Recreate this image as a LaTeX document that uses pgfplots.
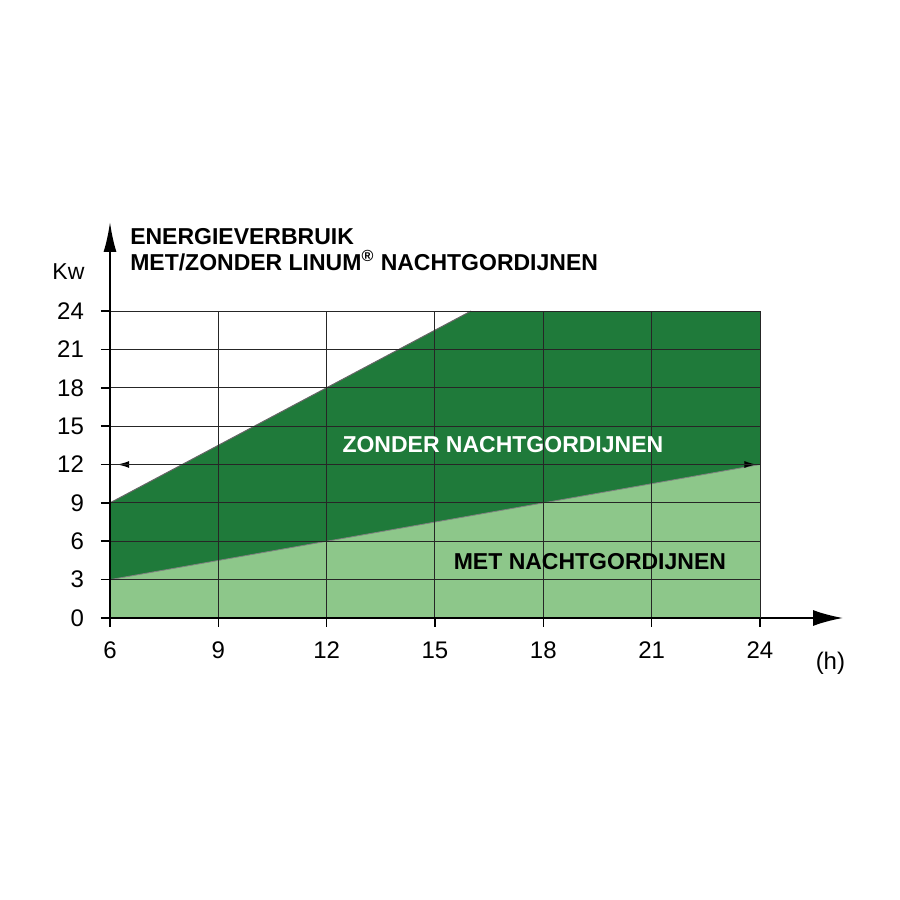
\documentclass[border=0pt]{standalone}
\usepackage{pgfplots}
\pgfplotsset{compat=1.18}
\usepackage{fontspec}
\setmainfont{Liberation Sans}
\usetikzlibrary{arrows.meta}

\definecolor{darkgreen}{HTML}{1F7A3A}
\definecolor{lightgreen}{HTML}{8DC78A}

\begin{document}
\begin{tikzpicture}
	% keep the reference's white margins (1 px = 0.5 pt)
	\path[use as bounding box] (-55pt,-141pt) rectangle (395pt,309pt);
	\begin{axis}[
		at={(0pt,0pt)}, anchor=origin,
		scale only axis,
		width=325pt, height=153.5pt,
		xmin=6, xmax=24,
		ymin=0, ymax=24,
		xtick={6,9,...,24},
		ytick={0,3,...,24},
		axis lines=left,
		axis line style={-, line width=1pt},
		tick align=outside,
		major tick length=4.5pt,
		tick style={black, line width=0.8pt},
		grid=major,
		grid style={black!85, line width=0.5pt},
		axis on top,
		clip=false,
		ticklabel style={font=\fontsize{12}{14}\selectfont},
		xticklabel style={yshift=-4pt},
		yticklabel style={xshift=-5pt},
		/pgf/number format/assume math mode=true,
		]
		
		% met nachtgordijnen
		\addplot[fill=lightgreen, draw=none]
		coordinates {(6,3)(24,12)} \closedcycle;
		
		% zonder nachtgordijnen
		\addplot[fill=darkgreen, draw=none]
		coordinates {(6,3)(24,12)(24,24)(16,24)(6,9)} -- cycle;
		
		\addplot[black!60, line width=0.5pt] coordinates {(6,9)(16,24)};
		\addplot[black!50, line width=0.4pt] coordinates {(6,3)(24,12)};
		
		% 12 kW reference arrow
		\addplot[black, line width=0.6pt, {Latex[length=6pt,width=3.5pt]}-{Latex[length=6pt,width=3.5pt]}]
		coordinates {(6.2,12)(23.9,12)};
		
		% arrowed axes and outside tick marks
		\draw[line width=1pt, -{Latex[length=15pt,width=6.5pt]}] (axis cs:6,0) -- (axis cs:6,30.96);
		\draw[line width=1pt, -{Latex[length=15pt,width=8pt]}] (axis cs:6,0) -- (axis cs:26.3,0);
		\pgfplotsinvokeforeach{6,9,...,24}{
			\draw[line width=0.8pt] (axis cs:#1,0) -- ++(0pt,-4.5pt);
		}
		\pgfplotsinvokeforeach{0,3,...,24}{
			\draw[line width=0.8pt] (axis cs:6,#1) -- ++(-4.5pt,0pt);
		}
		
		\coordinate (t1) at (axis cs:6.55,29.16);
		\coordinate (t2) at (axis cs:6.55,27.2);
		\coordinate (kw) at (axis cs:4.85,27.05);
		\coordinate (hh) at (axis cs:25.95,-4.0);
		\coordinate (zo) at (axis cs:16.88,13.52);
		\coordinate (me) at (axis cs:19.29,4.38);
	\end{axis}
	
	\node[anchor=base west, font=\fontsize{11.5}{13}\selectfont\bfseries, inner sep=0pt]
		at (t1) {ENERGIEVERBRUIK};
	\node[anchor=base west, font=\fontsize{11.5}{13}\selectfont\bfseries, inner sep=0pt]
		at (t2) {MET/ZONDER LINUM\textsuperscript{®} NACHTGORDIJNEN};
	\node[font=\fontsize{11.5}{13}\selectfont] at (kw) {Kw};
	\node[anchor=base, font=\fontsize{12}{14}\selectfont] at (hh) {(h)};
	
	\node[white, font=\fontsize{11.5}{13}\selectfont\bfseries] at (zo) {ZONDER NACHTGORDIJNEN};
	\node[black, font=\fontsize{11.5}{13}\selectfont\bfseries] at (me) {MET NACHTGORDIJNEN};
\end{tikzpicture}
\end{document}
